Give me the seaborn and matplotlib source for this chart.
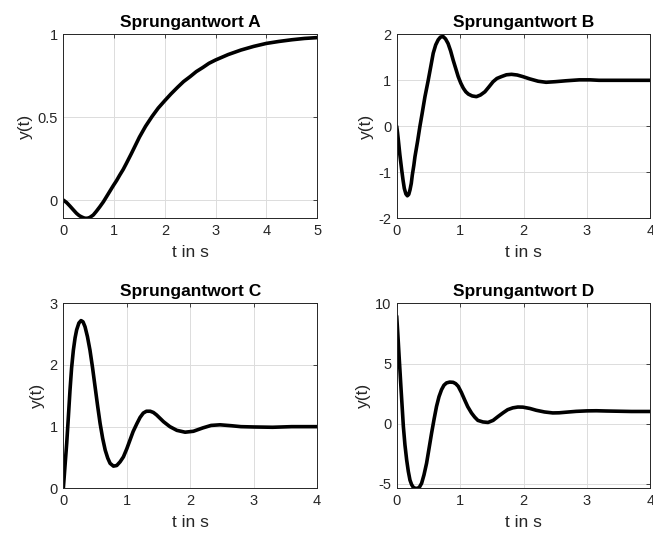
import matplotlib
matplotlib.use('Agg')
import matplotlib.pyplot as plt
import seaborn as sns

# Step responses (t in s, y(t))
t_a = [0, 0.065, 0.13, 0.2, 0.26, 0.31, 0.35, 0.4, 0.44, 0.48, 0.52, 0.59, 0.65, 0.72,
       0.79, 0.85, 0.92, 0.98, 1.05, 1.11, 1.18, 1.24, 1.34, 1.42, 1.5, 1.62, 1.75, 1.87,
       2.0, 2.12, 2.25, 2.37, 2.5, 2.62, 2.75, 2.87, 3.0, 3.25, 3.5, 3.75, 4.0, 4.25,
       4.5, 4.75, 5.0]
y_a = [0, -0.015, -0.036, -0.06, -0.08, -0.093, -0.1, -0.107, -0.11, -0.109, -0.105,
       -0.09, -0.068, -0.04, -0.01, 0.02, 0.055, 0.085, 0.118, 0.15, 0.185, 0.22, 0.28,
       0.33, 0.38, 0.445, 0.505, 0.555, 0.60, 0.64, 0.68, 0.715, 0.745, 0.775, 0.80, 0.825,
       0.845, 0.878, 0.905, 0.927, 0.945, 0.957, 0.967, 0.975, 0.98]

t_b = [0, 0.013, 0.026, 0.05, 0.079, 0.1, 0.12, 0.145, 0.168, 0.19, 0.21, 0.23, 0.246,
       0.27, 0.288, 0.33, 0.366, 0.4, 0.445, 0.497, 0.54, 0.576, 0.615, 0.654, 0.69,
       0.733, 0.77, 0.81, 0.85, 0.89, 0.93, 0.97, 1.01, 1.05, 1.09, 1.13, 1.19, 1.257,
       1.32, 1.39, 1.45, 1.52, 1.58, 1.65, 1.73, 1.81, 1.9, 1.99, 2.1, 2.23, 2.356, 2.5,
       2.67, 2.88, 3.05, 3.19, 3.5, 4.0]
y_b = [0, -0.14, -0.3, -0.62, -0.95, -1.17, -1.35, -1.47, -1.51, -1.48, -1.38, -1.24,
       -1.06, -0.85, -0.66, -0.32, 0.0, 0.27, 0.64, 1.0, 1.32, 1.59, 1.77, 1.88, 1.94,
       1.95, 1.9, 1.80, 1.64, 1.44, 1.26, 1.08, 0.94, 0.83, 0.75, 0.70, 0.66, 0.645,
       0.68, 0.75, 0.85, 0.97, 1.04, 1.08, 1.12, 1.13, 1.115, 1.08, 1.03, 0.98, 0.957,
       0.97, 0.99, 1.01, 1.01, 1.0, 1.0, 1.0]

t_c = [0, 0.026, 0.053, 0.08, 0.105, 0.13, 0.158, 0.185, 0.21, 0.245, 0.279, 0.31,
       0.342, 0.38, 0.42, 0.46, 0.5, 0.54, 0.58, 0.62, 0.66, 0.70, 0.737, 0.79, 0.842,
       0.895, 0.947, 1.0, 1.05, 1.1, 1.16, 1.21, 1.26, 1.31, 1.37, 1.42, 1.47, 1.52,
       1.58, 1.68, 1.79, 1.92, 2.05, 2.2, 2.33, 2.47, 2.65, 2.8, 3.0, 3.3, 3.6, 4.0]
y_c = [0, 0.36, 0.73, 1.17, 1.59, 1.95, 2.24, 2.44, 2.57, 2.68, 2.72, 2.70, 2.62, 2.46,
       2.24, 1.96, 1.65, 1.34, 1.05, 0.81, 0.62, 0.49, 0.405, 0.36, 0.37, 0.43, 0.51,
       0.64, 0.78, 0.92, 1.05, 1.15, 1.22, 1.25, 1.25, 1.23, 1.19, 1.14, 1.08, 1.0, 0.94,
       0.91, 0.925, 0.98, 1.02, 1.03, 1.015, 1.0, 0.995, 0.99, 1.0, 1.0]

t_d = [0, 0.013, 0.026, 0.039, 0.052, 0.065, 0.079, 0.092, 0.105, 0.13, 0.157, 0.183,
       0.209, 0.235, 0.262, 0.295, 0.33, 0.36, 0.393, 0.43, 0.471, 0.51, 0.55, 0.59,
       0.628, 0.667, 0.707, 0.745, 0.785, 0.835, 0.89, 0.93, 0.97, 1.02, 1.07, 1.12,
       1.18, 1.23, 1.28, 1.36, 1.44, 1.52, 1.6, 1.68, 1.75, 1.83, 1.91, 1.99, 2.1, 2.2,
       2.33, 2.46, 2.56, 2.67, 2.83, 3.0, 3.15, 3.3, 3.5, 3.7, 4.0]
y_d = [8.94, 7.85, 6.7, 5.5, 4.36, 3.2, 2.0, 0.9, -0.22, -1.75, -3.0, -3.95, -4.67,
       -5.05, -5.28, -5.36, -5.36, -5.25, -4.94, -4.25, -3.28, -2.05, -0.78, 0.4, 1.44,
       2.25, 2.83, 3.2, 3.39, 3.46, 3.44, 3.33, 3.11, 2.6, 2.0, 1.42, 0.89, 0.55, 0.28,
       0.15, 0.11, 0.28, 0.61, 0.92, 1.17, 1.32, 1.39, 1.38, 1.27, 1.12, 0.98, 0.9, 0.91,
       0.96, 1.03, 1.07, 1.08, 1.06, 1.04, 1.02, 1.02]

titles = ['Sprungantwort A', 'Sprungantwort B', 'Sprungantwort C', 'Sprungantwort D']
xlims = [(0, 5), (0, 4), (0, 4), (0, 4)]
ylims = [(-0.11, 1), (-2, 2), (0, 3), (-5.36, 10)]
yticks = [[0, 0.5, 1], [-2, -1, 0, 1, 2], [0, 1, 2, 3], [-5, 0, 5, 10]]
yticklabels = [['0', '0.5', '1'], ['-2', '-1', '0', '1', '2'], ['0', '1', '2', '3'],
               ['-5', '0', '5', '10']]

sns.set_theme(style='whitegrid')
plt.rcParams['font.family'] = ['Liberation Sans', 'DejaVu Sans']

dark = '#262626'
fig = plt.figure(figsize=(6.53, 5.48), dpi=100)
# axes boxes like the MATLAB subplot layout
positions = [[0.097, 0.6016, 0.3885, 0.3358],
             [0.6075, 0.6016, 0.3885, 0.3358],
             [0.097, 0.1089, 0.3885, 0.3376],
             [0.6075, 0.1089, 0.3885, 0.3376]]

data = [(t_a, y_a), (t_b, y_b), (t_c, y_c), (t_d, y_d)]
for i, (t, y) in enumerate(data):
    ax = fig.add_axes(positions[i])
    sns.lineplot(x=t, y=y, ax=ax, color='black', linewidth=2.6)
    ax.set_xlim(*xlims[i])
    ax.set_ylim(*ylims[i])
    ax.set_xticks(range(xlims[i][0], xlims[i][1] + 1))
    ax.set_yticks(yticks[i])
    ax.set_yticklabels(yticklabels[i])
    ax.set_title(titles[i], fontsize=12.5, fontweight='bold', color='black', pad=5)
    ax.set_xlabel('t in s', fontsize=12.5, color=dark, labelpad=5)
    ax.set_ylabel('y(t)', fontsize=12.5, color=dark, labelpad=3)
    ax.grid(True, color='#dcdcdc', linewidth=0.7)
    ax.tick_params(direction='in', length=3, width=0.6, color=dark, labelcolor=dark,
                   labelsize=10.5, top=True, right=True, pad=4)
    for s in ax.spines.values():
        s.set_color(dark)
        s.set_linewidth(0.7)
    ax.set_facecolor('white')

fig.savefig('out.png', dpi=100, facecolor='white')
